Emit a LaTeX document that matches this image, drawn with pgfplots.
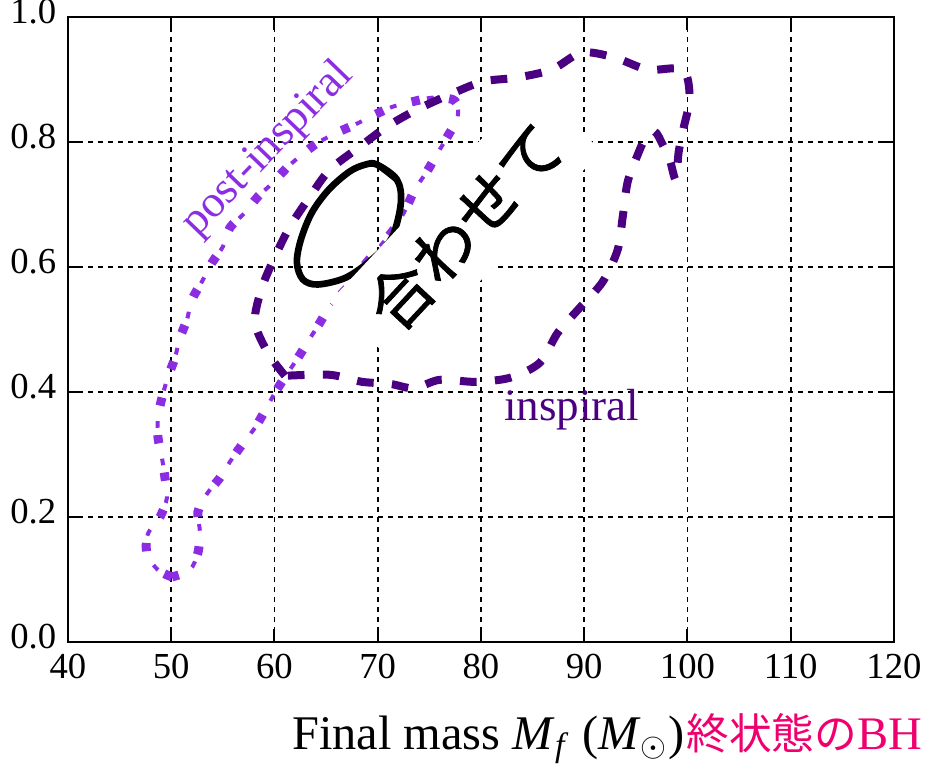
\documentclass[border=0pt]{standalone}
\usepackage{fontspec}
\setmainfont{Liberation Serif}
\newfontfamily\jpfont{Noto Sans CJK JP}
\newfontfamily\jpfontmid{Noto Sans CJK JP}[FakeBold=1.2]
\usepackage{pgfplots}
\pgfplotsset{compat=1.18}

\definecolor{insp}{RGB}{75,0,130}
\definecolor{post}{RGB}{140,45,228}
\definecolor{pinklab}{RGB}{240,0,110}

% 90% credible contours in the (final mass, final spin) plane
\pgfplotstableread{
x y
61.01 0.4259
59.36 0.4627
58.10 0.5123
58.78 0.5668
60.04 0.6164
61.49 0.6644
63.43 0.7125
65.36 0.7557
68.27 0.7925
70.88 0.8245
73.78 0.8517
76.98 0.8758
80.17 0.8966
83.47 0.9030
86.85 0.9158
89.76 0.9430
92.95 0.9350
96.15 0.9158
99.54 0.9158
100.21 0.8710
99.63 0.8229
99.15 0.7845
98.86 0.7397
98.28 0.7717
97.60 0.7957
96.83 0.8165
95.86 0.8037
95.18 0.7797
94.21 0.7365
93.73 0.6805
93.24 0.6276
91.79 0.5764
89.56 0.5347
87.43 0.4947
85.69 0.4467
82.79 0.4227
79.40 0.4163
76.01 0.4195
73.50 0.4060
71.20 0.4130
68.46 0.4163
65.36 0.4275
61.01 0.4259
}\inspiral

\pgfplotstableread{
x y
50.07 0.1041
48.71 0.1153
47.65 0.1409
47.74 0.1729
48.91 0.2001
49.58 0.2305
49.39 0.2626
49.10 0.2946
48.71 0.3282
48.71 0.3602
49.10 0.3907
49.68 0.4243
50.36 0.4547
50.84 0.4867
51.52 0.5155
52.00 0.5476
52.97 0.5764
53.94 0.6068
55.00 0.6324
55.68 0.6628
57.13 0.6868
58.39 0.7125
59.85 0.7349
61.20 0.7589
62.65 0.7797
64.20 0.7989
66.04 0.8149
67.78 0.8277
69.72 0.8437
71.46 0.8565
73.40 0.8646
75.33 0.8710
77.27 0.8678
77.75 0.8550
77.66 0.8357
76.69 0.8069
75.72 0.7797
74.75 0.7525
73.59 0.7237
72.72 0.6932
71.75 0.6644
70.20 0.6324
68.75 0.6036
67.30 0.5716
65.36 0.5363
64.39 0.5107
63.23 0.4803
62.27 0.4547
61.10 0.4259
60.04 0.3987
59.07 0.3698
58.10 0.3426
56.84 0.3154
55.68 0.2882
54.71 0.2626
53.46 0.2370
52.58 0.2081
52.78 0.1761
52.58 0.1425
51.81 0.1153
50.07 0.1041
}\postinspiral

\pgfplotstableread{
x y
68.85 0.764
69.91 0.764
71.85 0.740
72.24 0.703
71.37 0.647
69.43 0.612
66.91 0.583
64.20 0.572
62.75 0.580
62.17 0.607
62.56 0.644
63.62 0.687
65.27 0.724
67.30 0.753
68.85 0.764
69.91 0.764
71.85 0.740
}\combined

\begin{document}
\begin{tikzpicture}
\begin{axis}[
  width=247.8pt, height=187.5pt, scale only axis,
  xmin=40, xmax=120, ymin=0, ymax=1,
  xtick={40,50,60,70,80,90,100,110,120},
  ytick={0,0.2,0.4,0.6,0.8,1},
  yticklabel style={yshift=1.5pt, /pgf/number format/.cd, fixed, fixed zerofill, precision=1},
  /pgf/number format/assume math mode=true,
  tick label style={font=\rmfamily\fontsize{11}{13}\selectfont},
  grid=major,
  major grid style={black, line width=0.5pt, dash pattern=on 1.5pt off 1.5pt},
  axis line style={black, line width=0.6pt},
  tick style={black, line width=0.6pt},
  major tick length=4pt,
  tick align=inside,
  clip=false,
]
% post-inspiral: squares with short thin dashes between them
\addplot[post, line width=2.7pt, smooth, tension=0.5, dash pattern=on 2.5pt off 8.9pt] table {\postinspiral};
\addplot[post, line width=1.2pt, smooth, tension=0.5, dash pattern=on 0pt off 4.7pt on 2pt off 4.7pt] table {\postinspiral};
% inspiral
\addplot[insp, line width=2.4pt, smooth, tension=0.5, dash pattern=on 5pt off 5.5pt] table {\inspiral};
% combined
\addplot[black, line width=2pt, smooth, tension=0.55] table {\combined};

\node[rotate=46, text=post, font=\fontsize{13.5}{14}\selectfont] at (axis cs:59.36,0.788) {post-inspiral};
\node[text=insp, font=\fontsize{13.5}{14}\selectfont] at (axis cs:88.79,0.371) {inspiral};

\node[anchor=base west, inner sep=0pt, font=\fontsize{14.5}{16}\selectfont] at (axis cs:61.68,-0.172)
  {Final mass \textit{M}\textsubscript{\textit{f}} (\textit{M}\textsubscript{$\odot$})};
\node[anchor=base west, inner sep=0pt, text=pinklab, font=\fontsize{12.8}{14}\selectfont] at (axis cs:99.83,-0.172)
  {{\jpfont 終状態の}{\fontsize{14}{14}\selectfont BH}};

\node[fill=white, rotate=47, minimum width=88.8pt, minimum height=28.8pt, inner sep=0pt,
      font=\jpfontmid\fontsize{19}{19}\selectfont] at (axis cs:78.5,0.665) {合わせて};

\coordinate (sw) at (rel axis cs:0,0);
\end{axis}
\pgfresetboundingbox
\path[use as bounding box] ([shift={(-20.4pt,-36.6pt)}]sw) rectangle ([shift={(257.1pt,192.6pt)}]sw);
\end{tikzpicture}
\end{document}
